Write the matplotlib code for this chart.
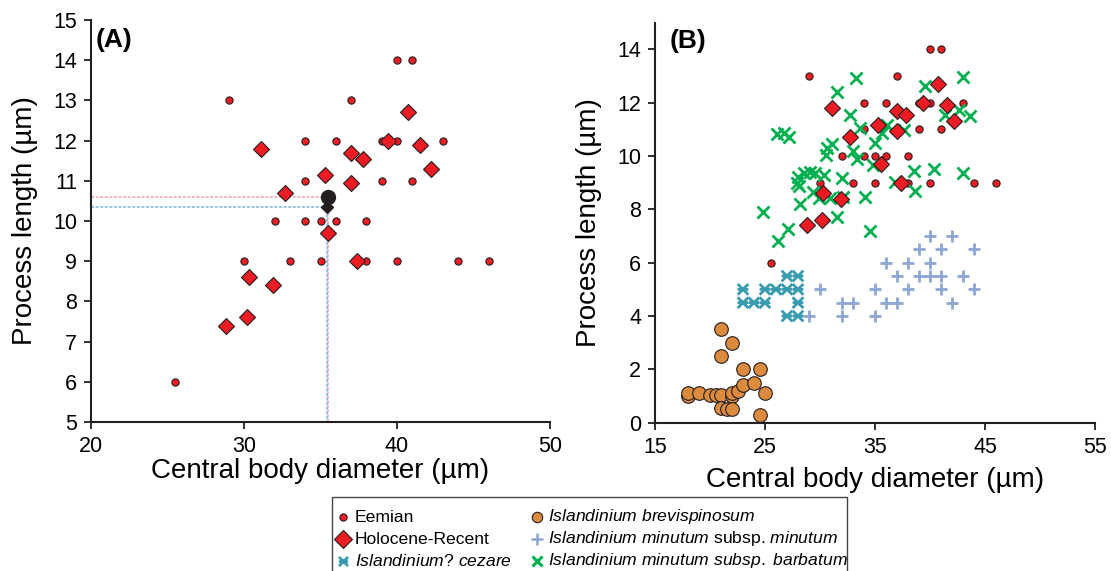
import matplotlib
matplotlib.use("Agg")
import matplotlib.pyplot as plt
from matplotlib.patches import Rectangle
from matplotlib.path import Path

plt.rcParams['font.family'] = ['Liberation Sans', 'DejaVu Sans']
plt.rcParams['mathtext.fontset'] = 'custom'
plt.rcParams['mathtext.rm'] = 'Liberation Sans'
plt.rcParams['mathtext.it'] = 'Liberation Sans:italic'

# ---------------- data ----------------
eemian_x = [29, 34, 34, 40, 41, 37, 36, 39, 40, 43, 39, 41, 32, 34, 35, 36, 38,
            30, 33, 35, 38, 40, 44, 46, 25.5]
eemian_y = [13, 12, 11, 14, 14, 13, 12, 12, 12, 12, 11, 11, 10, 10, 10, 10, 10,
            9, 9, 9, 9, 9, 9, 9, 6]

holo_x = [31.1, 32.7, 40.7, 39.4, 41.5, 37.0, 37.8, 35.3, 42.2, 37.0, 37.4, 35.5,
          30.3, 31.9, 30.2, 28.8]
holo_y = [11.8, 10.7, 12.7, 12.0, 11.9, 11.7, 11.55, 11.15, 11.3, 10.95, 9.0, 9.7,
          8.6, 8.4, 7.6, 7.4]

mean_eemian = (35.5, 10.6)
mean_holo = (35.45, 10.35)

cezare_x = [23, 25, 26, 27, 28, 27, 28, 23, 24, 25, 28, 27, 28]
cezare_y = [5, 5, 5, 5, 5, 5.5, 5.5, 4.5, 4.5, 4.5, 4.5, 4, 4]

brev_x = [18, 18, 19, 20, 20.5, 21, 22, 22, 22.5, 23, 24, 25, 23, 24.5, 21, 22, 21,
          21, 21.5, 22, 24.5]
brev_y = [1.0, 1.1, 1.1, 1.05, 1.05, 1.05, 1.0, 1.1, 1.2, 1.4, 1.5, 1.1, 2.0, 2.0,
          2.5, 3.0, 3.5, 0.55, 0.5, 0.5, 0.3]

minutum_x = [40, 42, 39, 41, 44, 36, 38, 40, 37, 39, 40, 41, 43, 35, 38, 41, 44,
             30, 32, 33, 36, 37, 42, 35, 32, 29]
minutum_y = [7, 7, 6.5, 6.5, 6.5, 6, 6, 6, 5.5, 5.5, 5.5, 5.5, 5.5, 5, 5, 5, 5,
             5, 4.5, 4.5, 4.5, 4.5, 4.5, 4, 4, 4]

barb_x = [33.3, 31.5, 32.7, 33.6, 35.0, 35.6, 36.1, 37.6, 26.06, 26.7, 27.2, 31.1,
          30.6, 30.5, 33.0, 33.4, 34.85, 28.0, 28.5, 29.1, 29.5, 30.4, 32.0, 27.9,
          28.1, 29.4, 29.9, 30.9, 32.1, 28.2, 34.1, 24.85, 31.5, 27.1, 26.2, 34.5,
          39.5, 43.0, 41.4, 42.6, 43.6, 38.5, 40.4, 43.0, 38.6, 36.85]
barb_y = [12.94, 12.39, 11.54, 11.05, 10.48, 10.85, 11.15, 10.97, 10.83, 10.88,
          10.73, 10.44, 10.3, 10.03, 10.18, 9.9, 9.66, 9.22, 9.35, 9.41, 9.37, 9.29,
          9.19, 8.98, 8.88, 8.66, 8.42, 8.44, 8.45, 8.2, 8.45, 7.91, 7.7, 7.27, 6.82,
          7.2, 12.63, 12.97, 11.54, 11.72, 11.5, 9.44, 9.5, 9.35, 8.7, 9.02]

legend_labels = [
    'Eemian',
    'Holocene-Recent',
    r'$\mathit{Islandinium?\ cezare}$',
    r'$\mathit{Islandinium\ brevispinosum}$',
    r'$\mathit{Islandinium\ minutum}$ subsp. $\mathit{minutum}$',
    r'$\mathit{Islandinium\ minutum\ subsp.\ barbatum}$',
]

# ---------------- styles ----------------
RED = '#ED1C24'
EDGE = '#231F20'
ORANGE = '#DB8A3E'
LBLUE = '#8DA6D2'
TEAL = '#3A9AB0'
GREEN = '#00B050'
DARK = '#231F20'

star_path = Path([(-1, -1), (1, 1), (-1, 1), (1, -1), (-1, 0), (1, 0)],
                 [Path.MOVETO, Path.LINETO, Path.MOVETO, Path.LINETO,
                  Path.MOVETO, Path.LINETO])

sty_eem = dict(marker='o', ms=5.2, mfc=RED, mec=EDGE, mew=0.8, ls='none')
sty_holo = dict(marker='D', ms=8.2, mfc=RED, mec=EDGE, mew=0.8, ls='none')
sty_brev = dict(marker='o', ms=9.8, mfc=ORANGE, mec=EDGE, mew=0.8, ls='none')
sty_min = dict(marker='+', ms=9, mew=2.0, color=LBLUE, ls='none')
sty_barb = dict(marker='x', ms=9, mew=2.0, color=GREEN, ls='none')
sty_cez = dict(marker=star_path, ms=6.5, mfc='none', mec=TEAL, mew=2.0, ls='none')

fig = plt.figure(figsize=(11.11, 5.71), dpi=100)
W, H = 1111, 571


def axes_px(l, r, t, b):
    return fig.add_axes([l / W, 1 - b / H, (r - l) / W, (b - t) / H])


axA = axes_px(91, 550, 20, 422)
axB = axes_px(655, 1095, 22.7, 422.7)


def style(ax, xpad):
    for s in ['top', 'right']:
        ax.spines[s].set_visible(False)
    for s in ['left', 'bottom']:
        ax.spines[s].set_color(DARK)
        ax.spines[s].set_linewidth(1.5)
    ax.tick_params(direction='out', length=5, width=1.3, color=DARK,
                   labelsize=15.5, labelcolor='black', pad=5)
    ax.set_xlabel('Central body diameter (µm)', fontsize=20, labelpad=xpad)
    ax.set_ylabel('Process length (µm)', fontsize=20, labelpad=11)


# ---- Panel A ----
axA.set_xlim(20, 50)
axA.set_ylim(5, 15)
axA.set_xticks([20, 30, 40, 50])
axA.set_yticks(range(5, 16))
style(axA, 1)

axA.plot([20, mean_eemian[0]], [mean_eemian[1]] * 2, color='#F3A3A6', lw=1.1,
         ls=(0, (2, 1)), zorder=1)
axA.plot([mean_eemian[0]] * 2, [5, mean_eemian[1]], color='#F3A3A6', lw=1.1,
         ls=(0, (2, 1)), zorder=1)
axA.plot([20, mean_holo[0]], [mean_holo[1]] * 2, color='#7DB7E6', lw=1.1,
         ls=(0, (2, 1)), zorder=1)
axA.plot([mean_holo[0]] * 2, [5, mean_holo[1]], color='#7DB7E6', lw=1.1,
         ls=(1, (2, 1)), zorder=1)

axA.plot(eemian_x, eemian_y, zorder=3, **sty_eem)
axA.plot(holo_x, holo_y, zorder=4, **sty_holo)
axA.plot([mean_eemian[0]], [mean_eemian[1]], 'o', ms=10, mfc=DARK, mec=DARK, ls='none', zorder=5)
axA.plot([mean_holo[0]], [mean_holo[1]], 'D', ms=6.5, mfc=DARK, mec=DARK, ls='none', zorder=5)
axA.text(0.009, 0.98, '(A)', transform=axA.transAxes, fontsize=19, fontweight='bold',
         va='top', ha='left')

# ---- Panel B ----
axB.set_xlim(15, 55)
axB.set_ylim(0, 15)
axB.set_xticks([15, 25, 35, 45, 55])
axB.set_yticks(range(0, 15, 2))
style(axB, 7)

axB.plot(minutum_x, minutum_y, zorder=2, **sty_min)
axB.scatter(cezare_x, cezare_y, marker=star_path, s=60, facecolors='none',
            edgecolors=TEAL, linewidths=2.0, zorder=2)
axB.plot(brev_x, brev_y, zorder=3, **sty_brev)
axB.plot(eemian_x, eemian_y, zorder=3, **sty_eem)
axB.plot(barb_x, barb_y, zorder=4, **sty_barb)
axB.plot(holo_x, holo_y, zorder=5, **sty_holo)
axB.text(0.034, 0.985, '(B)', transform=axB.transAxes, fontsize=19, fontweight='bold',
         va='top', ha='left')

# ---- Legend (two columns, rows aligned) ----
lax = axes_px(332, 847, 497, 571)
lax.set_xlim(0, 515)
lax.set_ylim(74, 0)
lax.axis('off')
lax.add_patch(Rectangle((0, 0), 515, 100, fill=False, ec='#444444', lw=1.0,
                        clip_on=False))
leg_styles = [
    dict(sty_eem),
    dict(sty_holo, ms=8.7),
    dict(sty_cez),
    dict(sty_brev, ms=7.5),
    dict(sty_min, ms=8, mew=1.8),
    dict(sty_barb, ms=7, mew=2.2),
]
rows = [20, 42, 64]
cols = [(11, 23), (205, 216)]
for i, (lab, st) in enumerate(zip(legend_labels, leg_styles)):
    c, r = divmod(i, 3)
    mx, tx = cols[c]
    lax.plot([mx], [rows[r]], clip_on=False, **st)
    lax.text(tx, rows[r], lab, fontsize=12.6, va='center', ha='left')

fig.savefig('out.png', dpi=100)
